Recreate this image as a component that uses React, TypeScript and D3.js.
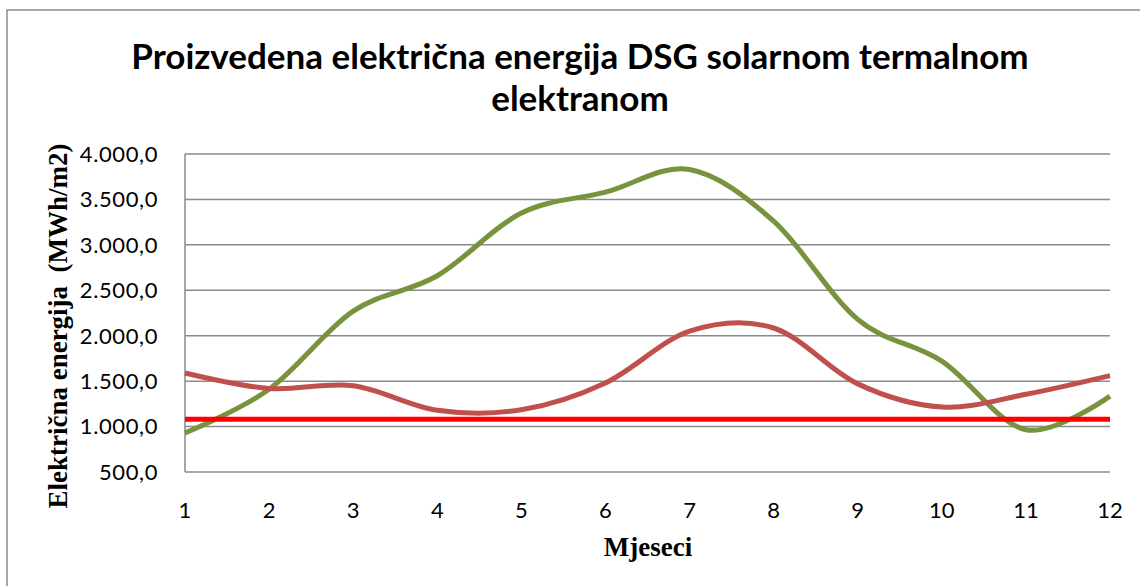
import React from "react";
import * as d3 from "d3";

const months = [1, 2, 3, 4, 5, 6, 7, 8, 9, 10, 11, 12];
const dsgEnergy = [930, 1410, 2270, 2660, 3350, 3580, 3830, 3260, 2180, 1720, 965, 1335];
const otherEnergy = [1590, 1420, 1450, 1180, 1185, 1480, 2050, 2085, 1470, 1215, 1355, 1560];
const referenceLine = [1080, 1080, 1080, 1080, 1080, 1080, 1080, 1080, 1080, 1080, 1080, 1080];
const yTicks = [500, 1000, 1500, 2000, 2500, 3000, 3500, 4000];

const W = 1140;
const H = 586;

const App: React.FC = () => {
  const x = d3.scaleLinear().domain([1, 12]).range([185, 1110]);
  const y = d3.scaleLinear().domain([500, 4000]).range([472, 154]);

  // Excel-style smoothed lines
  const smooth = d3
    .line<number>()
    .x((_, i) => x(months[i]))
    .y((d) => y(d))
    .curve(d3.curveCatmullRom.alpha(0));
  const straight = d3
    .line<number>()
    .x((_, i) => x(months[i]))
    .y((d) => y(d));

  const fmt = (v: number) => d3.format(",.1f")(v).replace(/,/g, "#").replace(".", ",").replace(/#/g, ".");

  return (
    <svg width={W} height={H} style={{ position: "absolute", left: 0, top: 0, background: "#fff" }}>
      <rect x={7} y={10} width={W} height={H} fill="#fff" stroke="#8c8c8c" strokeWidth={1.5} />

      <g fontFamily="Lato, 'Open Sans', sans-serif" fontWeight="bold" fontSize={35} textAnchor="middle" fill="#000">
        <text x={580} y={69}>Proizvedena električna energija DSG solarnom termalnom</text>
        <text x={580} y={111}>elektranom</text>
      </g>

      {/* gridlines */}
      {yTicks.map((t) => (
        <line key={t} x1={x(1)} x2={x(12)} y1={y(t)} y2={y(t)} stroke="#8a8a8a" strokeWidth={1.5} />
      ))}
      <line x1={x(1)} x2={x(1)} y1={y(4000)} y2={y(500)} stroke="#8a8a8a" strokeWidth={1.5} />

      {/* y tick labels */}
      {yTicks.map((t) => (
        <text key={t} x={158} y={y(t)} dy="0.36em" textAnchor="end" fontFamily="Lato, sans-serif" fontSize={22} letterSpacing={0.6} fill="#000">
          {fmt(t)}
        </text>
      ))}

      {/* x tick labels */}
      {months.map((m) => (
        <text key={m} x={x(m)} y={518} textAnchor="middle" fontFamily="Lato, sans-serif" fontSize={22} fill="#000">
          {m}
        </text>
      ))}

      <text x={648} y={556} textAnchor="middle" fontFamily="'Liberation Serif', serif" fontWeight="bold" fontSize={27} fill="#000">
        Mjeseci
      </text>
      <text
        transform={`translate(67,326) rotate(-90)`}
        textAnchor="middle"
        fontFamily="'Liberation Serif', serif"
        fontWeight="bold"
        fontSize={27}
        fill="#000"
        style={{ whiteSpace: "pre" }}
      >
        {"Električna energija  (MWh/m2)"}
      </text>

      <path d={smooth(dsgEnergy) ?? ""} fill="none" stroke="#77933C" strokeWidth={5} />
      <path d={smooth(otherEnergy) ?? ""} fill="none" stroke="#C0504D" strokeWidth={5} />
      <path d={straight(referenceLine) ?? ""} fill="none" stroke="#FF0000" strokeWidth={5} />
    </svg>
  );
};

export default App;
